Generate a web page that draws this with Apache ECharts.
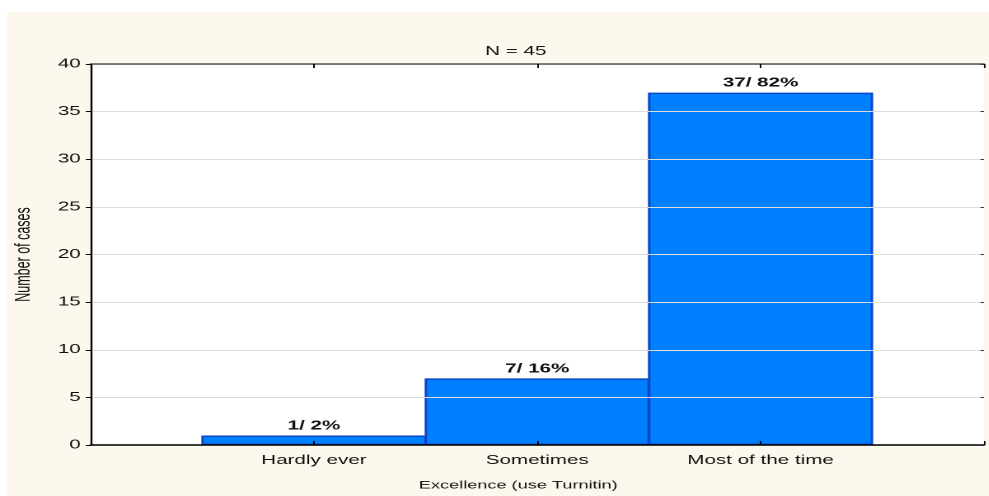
<!DOCTYPE html>
<html>
<head>
<meta charset="utf-8">
<script src="https://cdn.jsdelivr.net/npm/echarts@6/dist/echarts.min.js"></script>
<style>
  body { margin: 0; background: #fff; overflow: hidden; }
  #bg { position: absolute; left: 7px; top: 12px; width: 982px; height: 484px; background: #fdf8ee; }
  /* the original picture is stretched sideways, so draw narrow and widen it */
  #main { position: absolute; left: 0; top: 0; width: 600px; height: 496px; transform: scaleX(1.648); transform-origin: 0 0; }
</style>
</head>
<body>
<div id="bg"></div>
<div id="main"></div>
<script>
var categories = ['Hardly ever', 'Sometimes', 'Most of the time']
var counts = [1, 7, 37]
var percents = [2, 16, 82]
var total = 45

var font = 'Liberation Sans, Arial, sans-serif'
var barData = counts.map(function(c, i) { return [i + 1, c] })

var gridLeft = 53.4
var gridRight = 0
var barWidth = (600 - gridLeft - gridRight) / 4

var myChart = echarts.init(document.getElementById('main'), null, { devicePixelRatio: 2 })
var option = {
  animation: false,
  title: {
    text: 'N = ' + total,
    left: 308,
    top: 40,
    textAlign: 'center',
    textStyle: { fontFamily: font, fontSize: 12.5, fontWeight: 'normal', color: '#111' }
  },
  grid: {
    left: gridLeft,
    right: gridRight,
    top: 64,
    bottom: 50,
    show: true,
    backgroundColor: '#fff',
    borderWidth: 0
  },
  xAxis: [
    {
      type: 'value',
      z: 5,
      min: 0,
      max: 4,
      interval: 1,
      position: 'bottom',
      name: 'Excellence (use Turnitin)',
      nameLocation: 'middle',
      nameGap: 35,
      nameTextStyle: { fontFamily: font, fontSize: 11, color: '#111', padding: [0, 23, 0, 0] },
      axisLine: { show: true, onZero: false, lineStyle: { color: '#000', width: 1.5 } },
      axisTick: { show: true, inside: true, length: 4, lineStyle: { color: '#000', width: 1 } },
      axisLabel: {
        margin: 9,
        fontFamily: font,
        fontSize: 12.5,
        color: '#111',
        formatter: function(v) { return categories[v - 1] || '' }
      },
      splitLine: { show: false }
    },
    {
      type: 'value',
      z: 5,
      min: 0,
      max: 4,
      interval: 1,
      position: 'top',
      axisLine: { show: true, onZero: false, lineStyle: { color: '#555', width: 1.5 } },
      axisTick: { show: true, inside: true, length: 4, lineStyle: { color: '#000', width: 1 } },
      axisLabel: { show: false },
      splitLine: { show: false }
    }
  ],
  yAxis: [
    {
      type: 'value',
      z: 5,
      min: 0,
      max: 40,
      interval: 5,
      position: 'left',
      name: 'Number of cases',
      nameLocation: 'middle',
      nameGap: 34,
      nameRotate: 90,
      nameTextStyle: { fontFamily: font, fontSize: 12.5, color: '#111' },
      axisLine: { show: true, onZero: false, lineStyle: { color: '#000', width: 1.2 } },
      axisTick: { show: true, length: 3, lineStyle: { color: '#000' } },
      axisLabel: { margin: 6, fontFamily: font, fontSize: 12.5, color: '#111' },
      splitLine: { show: true, lineStyle: { color: '#dcdcdc', width: 1 } }
    },
    {
      type: 'value',
      z: 5,
      min: 0,
      max: 40,
      interval: 5,
      position: 'right',
      axisLine: { show: false, onZero: false },
      axisTick: { show: true, inside: true, length: 2, lineStyle: { color: '#333' } },
      axisLabel: { show: false },
      splitLine: { show: false }
    }
  ],
  series: [
    {
      type: 'bar',
      xAxisIndex: 0,
      yAxisIndex: 0,
      barWidth: barWidth,
      data: barData,
      itemStyle: { color: '#0080ff', borderColor: '#0a46c8', borderWidth: 1.5 },
      label: {
        show: true,
        position: 'top',
        distance: 3,
        fontFamily: font,
        fontSize: 12.5,
        fontWeight: 'bold',
        color: '#111',
        formatter: function(p) { return counts[p.dataIndex] + '/ ' + percents[p.dataIndex] + '%' }
      }
    }
  ]
}
myChart.setOption(option)
</script>
</body>
</html>
